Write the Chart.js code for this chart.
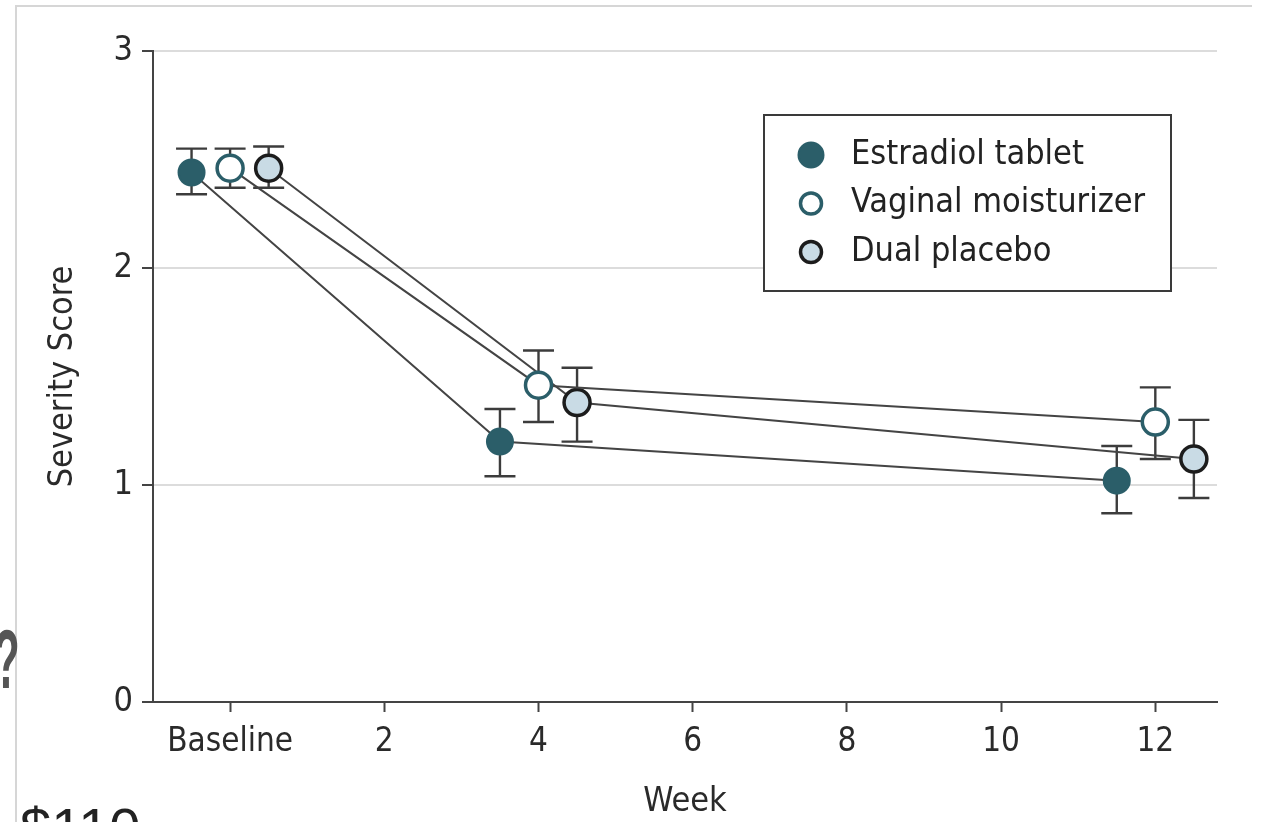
<!DOCTYPE html>
<html>
<head>
<meta charset="utf-8">
<script src="https://cdn.jsdelivr.net/npm/chart.js@4.4.0/dist/chart.umd.min.js"></script>
<style>
  html,body{margin:0;padding:0;background:#fff;overflow:hidden;}
  #wrap{position:relative;width:1261px;height:822px;overflow:hidden;}
  #frame{position:absolute;left:15px;top:5px;width:1235px;height:900px;border-top:2px solid #d6d6d6;border-left:2px solid #d6d6d6;}
  #q{position:absolute;left:-6px;top:611px;font:bold 84px 'Liberation Sans',sans-serif;color:#555;transform:scaleX(0.5);transform-origin:left top;line-height:normal;}
  #price{position:absolute;left:20px;top:795px;font:56px 'Liberation Sans',sans-serif;color:#222;}
  canvas{position:absolute;left:0;top:0;}
</style>
</head>
<body>
<div id="wrap">
  <div id="frame"></div>
  <div id="q">?</div>
  <div id="price">$110</div>
  <canvas id="c" width="1261" height="822"></canvas>
</div>
<script>
document.addEventListener('DOMContentLoaded',()=>{

const FONT = "'Liberation Sans Narrow','DejaVu Sans Condensed',sans-serif";

// ===== DATA =====
const seriesNames = ['Estradiol tablet','Vaginal moisturizer','Dual placebo'];
const xTicks = [0,2,4,6,8,10,12];
const yTicks = [0,1,2,3];

// x positions are slightly dodged around weeks 0, 4, 12
const estradiolX = [-0.5, 3.5, 11.5];
const estradiolY = [2.44, 1.20, 1.02];
const estradiolLo = [2.34, 1.04, 0.87];
const estradiolHi = [2.55, 1.35, 1.18];

const moistX = [0, 4, 12];
const moistY = [2.46, 1.46, 1.29];
const moistLo = [2.37, 1.29, 1.12];
const moistHi = [2.55, 1.62, 1.45];

const placeboX = [0.5, 4.5, 12.5];
const placeboY = [2.46, 1.38, 1.12];
const placeboLo = [2.37, 1.20, 0.94];
const placeboHi = [2.56, 1.54, 1.30];

// ===== STYLE =====
const TEAL = '#2b5e69';
const styles = [
  {bg:TEAL, border:TEAL, bw:2},
  {bg:'#ffffff', border:TEAL, bw:3.5},
  {bg:'#c9dbe5', border:'#1c1c1c', bw:3.5}
];

const pts = (xs,ys)=>xs.map((x,i)=>({x, y:ys[i]}));
const series = [
  {x:estradiolX, y:estradiolY, lo:estradiolLo, hi:estradiolHi},
  {x:moistX, y:moistY, lo:moistLo, hi:moistHi},
  {x:placeboX, y:placeboY, lo:placeboLo, hi:placeboHi}
];

// ===== PLUGINS =====
const errorBars = {
  id:'errorBars',
  beforeDatasetsDraw(chart){
    const {ctx, scales:{x,y}} = chart;
    ctx.save();
    ctx.strokeStyle = '#3c3c3c';
    ctx.lineWidth = 2.4;
    series.forEach(s=>{
      s.x.forEach((xv,i)=>{
        const px = x.getPixelForValue(xv);
        const top = y.getPixelForValue(s.hi[i]);
        const bot = y.getPixelForValue(s.lo[i]);
        ctx.beginPath();
        ctx.moveTo(px,top); ctx.lineTo(px,bot);
        ctx.moveTo(px-15.5,top); ctx.lineTo(px+15.5,top);
        ctx.moveTo(px-15.5,bot); ctx.lineTo(px+15.5,bot);
        ctx.stroke();
      });
    });
    ctx.restore();
  }
};

const boxLegend = {
  id:'boxLegend',
  afterDraw(chart){
    const {ctx, chartArea:a} = chart;
    const left = a.left + 611, top = a.top + 64, w = 407, h = 176;
    ctx.save();
    ctx.fillStyle = '#fff';
    ctx.fillRect(left,top,w,h);
    ctx.strokeStyle = '#3a3a3a';
    ctx.lineWidth = 2;
    ctx.strokeRect(left,top,w,h);
    ctx.font = '34px ' + FONT;
    ctx.textBaseline = 'middle';
    seriesNames.forEach((name,i)=>{
      const cy = top + 40 + i*48.5;
      const st = styles[i];
      ctx.beginPath();
      ctx.arc(left+47, cy, i===0?12.5:10.5, 0, Math.PI*2);
      ctx.fillStyle = st.bg; ctx.fill();
      ctx.lineWidth = st.bw; ctx.strokeStyle = st.border; ctx.stroke();
      ctx.fillStyle = '#222';
      ctx.fillText(name, left+87, cy);
    });
    ctx.restore();
  }
};

// ===== CHART =====
new Chart(document.getElementById('c'),{
  type:'line',
  data:{
    datasets: series.map((s,i)=>({
      label: seriesNames[i],
      data: pts(s.x, s.y),
      borderColor:'#444',
      borderWidth:2,
      pointRadius:13,
      pointBackgroundColor:styles[i].bg,
      pointBorderColor:styles[i].border,
      pointBorderWidth:styles[i].bw,
      tension:0
    }))
  },
  options:{
    responsive:false,
    animation:false,
    layout:{padding:{left:0, top:51, right:44, bottom:0}},
    plugins:{legend:{display:false}, tooltip:{enabled:false}},
    scales:{
      x:{
        type:'linear', min:-1, max:12.8,
        afterBuildTicks: s=>{ s.ticks = xTicks.map(v=>({value:v})); },
        afterFit: s=>{ s.height = 120; },
        grid:{drawOnChartArea:false, tickLength:10, tickColor:'#444', tickWidth:2},
        border:{color:'#444', width:2},
        ticks:{
          padding:11, color:'#2a2a2a', font:{family:FONT, size:33},
          maxRotation:0, autoSkip:false,
          callback: v => v===0 ? 'Baseline' : String(v)
        },
        title:{display:true, text:'Week', color:'#2a2a2a', font:{family:FONT, size:34}, padding:{top:0,bottom:-1}}
      },
      y:{
        min:0, max:3,
        afterBuildTicks: s=>{ s.ticks = yTicks.map(v=>({value:v})); },
        afterFit: s=>{ s.width = 153; },
        grid:{
          color: c => c.tick && c.tick.value===0 ? 'rgba(0,0,0,0)' : '#dcdcdc',
          lineWidth:2, tickLength:11, tickColor:'#444', tickWidth:2
        },
        border:{color:'#444', width:2},
        ticks:{padding:9, color:'#2a2a2a', font:{family:FONT, size:34}},
        title:{display:true, text:'Severity Score', color:'#2a2a2a', font:{family:FONT, size:34}, padding:{top:43,bottom:0}}
      }
    }
  },
  plugins:[errorBars, boxLegend]
});

});
</script>
</body>
</html>
